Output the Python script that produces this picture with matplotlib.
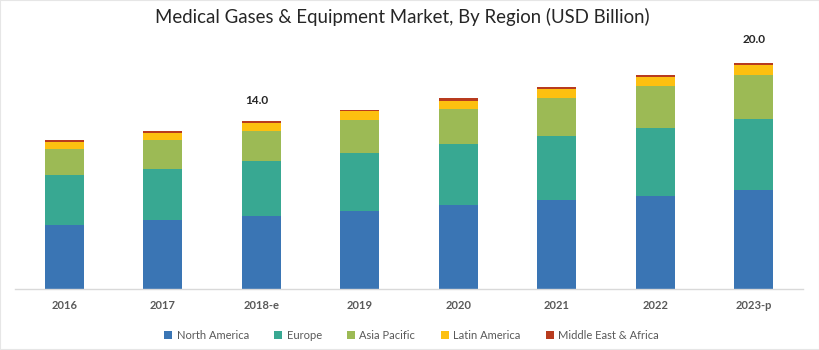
import matplotlib.pyplot as plt
import numpy as np

# categories & values (USD Billion)
years = ["2016", "2017", "2018-e", "2019", "2020", "2021", "2022", "2023-p"]
north_america = [5.38, 5.80, 6.13, 6.50, 7.00, 7.44, 7.78, 8.25]
europe = [4.17, 4.25, 4.56, 4.83, 5.08, 5.33, 5.64, 5.92]
asia_pacific = [2.17, 2.42, 2.53, 2.80, 2.94, 3.14, 3.50, 3.72]
latin_america = [0.56, 0.58, 0.62, 0.70, 0.69, 0.78, 0.80, 0.81]
mea = [0.13, 0.17, 0.17, 0.10, 0.20, 0.19, 0.17, 0.19]

# labels shown above some bars
top_labels = {2: "14.0", 7: "20.0"}

series = [("North America", north_america, "#3a75b4"),
          ("Europe", europe, "#38a892"),
          ("Asia Pacific", asia_pacific, "#9cba55"),
          ("Latin America", latin_america, "#fdc010"),
          ("Middle East & Africa", mea, "#b83b1e")]

plt.rcParams['font.family'] = ['Lato', 'DejaVu Sans']

fig = plt.figure(figsize=(8.2, 3.5), dpi=100)
ax = fig.add_axes([15/820, 60.7/350, 788/820, 264/350])

x = np.arange(len(years))
bottom = np.zeros(len(years))
for name, vals, col in series:
    ax.bar(x, vals, 0.4, bottom=bottom, color=col, label=name, linewidth=0)
    bottom += np.array(vals)

# small offsets so the labels sit where they are in the picture
lab_dx = {2: -0.045, 7: 0.0}
lab_dy = {2: 1.7, 7: 1.95}
for i, txt in top_labels.items():
    ax.text(x[i] + lab_dx[i], bottom[i] + lab_dy[i], txt, ha="center", va="center",
            fontsize=8.5, fontweight="bold", color="#262626")

ax.set_xlim(-0.5, len(years) - 0.5)
ax.set_ylim(0, 22)
ax.set_yticks([])
ax.set_xticks(x)
ax.set_xticklabels(years, fontsize=8, fontweight="bold", color="#595959")
ax.tick_params(axis="x", length=0, pad=8)
for s in ["top", "right", "left"]:
    ax.spines[s].set_visible(False)
ax.spines["bottom"].set_color("#d9d9d9")
ax.spines["bottom"].set_linewidth(1)

fig.text(402/820, 1 - 17/350, "Medical Gases & Equipment Market, By Region (USD Billion)",
         ha="center", va="center", fontsize=13.4, color="#262626")

handles, labels = ax.get_legend_handles_labels()
fig.legend(handles, labels, loc="center", bbox_to_anchor=(0.502, 14.3/350), ncol=5,
           frameon=False, fontsize=8, handlelength=0.7, handleheight=0.7,
           handletextpad=0.4, columnspacing=2.3, labelcolor="#595959")

# light frame around the image
fig.patches.append(plt.Rectangle((0, 0), 1, 1, transform=fig.transFigure,
                                 fill=False, edgecolor="#e6e6e6", linewidth=1.5))

fig.savefig("out.png", dpi=100)
